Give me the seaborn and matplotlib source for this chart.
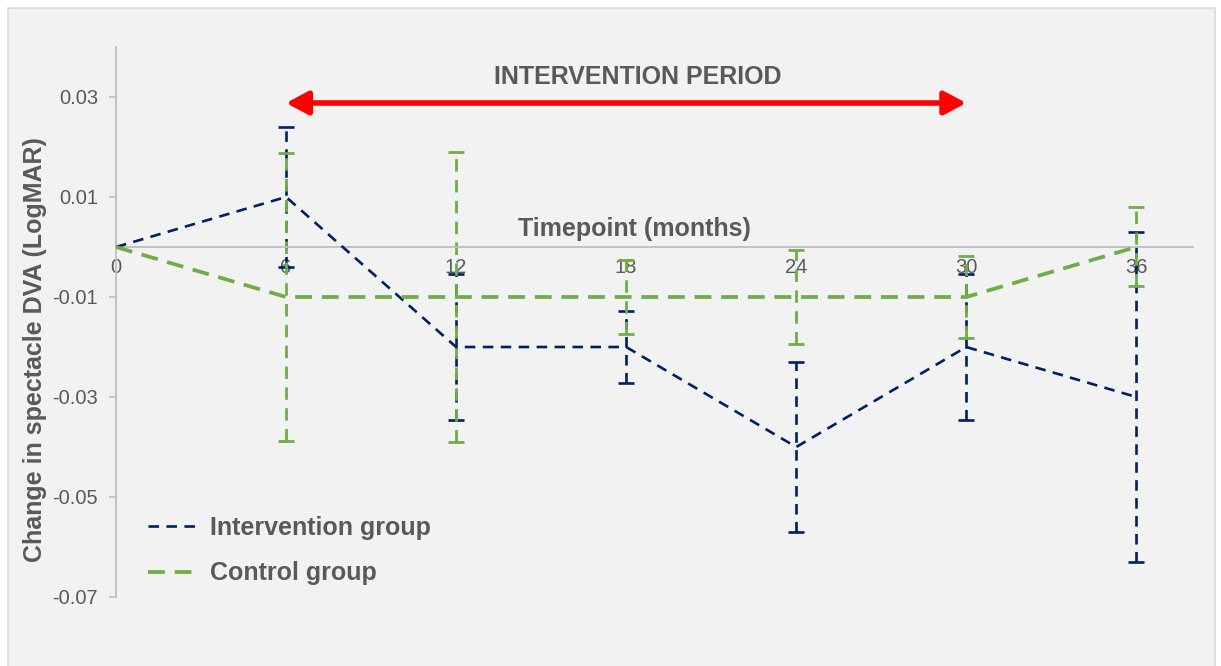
import pandas as pd
import matplotlib.pyplot as plt
from matplotlib.patches import Rectangle
import seaborn as sns

# Datos
months = [0, 6, 12, 18, 24, 30, 36]
intervention = [0, 0.01, -0.02, -0.02, -0.04, -0.02, -0.03]
intervention_err = [0, 0.014, 0.0146, 0.0072, 0.017, 0.0146, 0.033]
control = [0, -0.01, -0.01, -0.01, -0.01, -0.01, 0]
control_err = [0, 0.0288, 0.029, 0.0074, 0.0094, 0.0082, 0.0079]
groups = ["Intervention group", "Control group"]
y_ticks = [-0.07, -0.05, -0.03, -0.01, 0.01, 0.03]
y_tick_labels = ["-0.07", "-0.05", "-0.03", "-0.01", "0.01", "0.03"]

navy = "#002060"
green = "#70ad47"
grey_txt = "#595959"
axis_grey = "#bfbfbf"
line_w = {groups[0]: 1.9, groups[1]: 2.7}

sns.set_style("white")
plt.rcParams["font.family"] = ["Liberation Sans", "DejaVu Sans"]

df = pd.DataFrame({
    "month": months * 2,
    "change": intervention + control,
    "group": [groups[0]] * len(months) + [groups[1]] * len(months),
})

fig = plt.figure(figsize=(12.21, 6.66), dpi=100, facecolor="white")
fig.patches.append(Rectangle((8 / 1221, -0.05), 1207 / 1221, 1.05 - 8 / 666,
                             transform=fig.transFigure, facecolor="#f2f2f2",
                             edgecolor="#d9d9d9", lw=1.2, zorder=-10))
ax = fig.add_axes([116 / 1221, 1 - 597 / 666, 1077 / 1221, 550 / 666])
ax.set_facecolor("none")

sns.lineplot(data=df, x="month", y="change", hue="group", style="group",
             hue_order=groups, style_order=groups,
             palette={groups[0]: navy, groups[1]: green},
             dashes={groups[0]: (4, 2.8), groups[1]: (4.5, 2.6)},
             errorbar=None, ax=ax, zorder=3)
for line, g in zip(ax.get_lines()[:2], groups):
    line.set_linewidth(line_w[g])

# barras de error (sin el punto inicial)
for vals, errs, col, lw, ls in [(intervention, intervention_err, navy, 1.9, (0, (4, 2.8))),
                                (control, control_err, green, 2.0, (0, (4.5, 3)))]:
    eb = ax.errorbar(months[1:], vals[1:], yerr=errs[1:], fmt="none", ecolor=col,
                     elinewidth=lw, capsize=5.5, capthick=lw, zorder=2)
    eb[2][0].set_linestyle(ls)

# ejes
ax.set_xlim(0, 38)
ax.set_ylim(-0.07, 0.04)
ax.set_xticks(months)
ax.set_xticklabels([str(m) for m in months])
ax.set_yticks(y_ticks)
ax.set_yticklabels(y_tick_labels)
for s in ["top", "right"]:
    ax.spines[s].set_visible(False)
ax.spines["bottom"].set_position(("data", 0))
ax.spines["bottom"].set_color(axis_grey)
ax.spines["left"].set_color(axis_grey)
ax.spines["bottom"].set_linewidth(1.3)
ax.spines["left"].set_linewidth(1.3)
ax.tick_params(axis="both", colors=axis_grey, labelcolor=grey_txt, labelsize=14.5,
               direction="out", width=1.2)
ax.tick_params(axis="x", length=4, pad=4)
ax.tick_params(axis="y", length=5, pad=8, left=True)

ax.set_xlabel("")
ax.set_ylabel("Change in spectacle DVA (LogMAR)", fontsize=18, fontweight="bold",
              color=grey_txt)
ax.yaxis.set_label_coords(-0.064, 0.449)
ax.text(18.3, 0.0036, "Timepoint (months)", ha="center", va="center", fontsize=18,
        fontweight="bold", color=grey_txt)

# periodo de intervención
ax.annotate("", xy=(6, 0.0288), xytext=(30, 0.0288),
            arrowprops=dict(arrowstyle="<|-|>,head_length=0.6,head_width=0.32",
                            color="#ff0000", lw=4, mutation_scale=22,
                            shrinkA=0, shrinkB=0))
ax.text(18.4, 0.034, "INTERVENTION PERIOD", ha="center", va="center", fontsize=18,
        fontweight="bold", color=grey_txt)

handles, labels = ax.get_legend_handles_labels()
for h, lab in zip(handles, labels):
    h.set_linewidth(line_w[lab])
ax.legend(handles, labels, loc="center left", bbox_to_anchor=(0.03, 0.084),
          frameon=False, borderpad=0, borderaxespad=0, handlelength=2.0,
          handletextpad=0.45, labelspacing=0.85,
          prop={"weight": "bold", "size": 18}, labelcolor=grey_txt)

plt.savefig("out.png", dpi=100)
